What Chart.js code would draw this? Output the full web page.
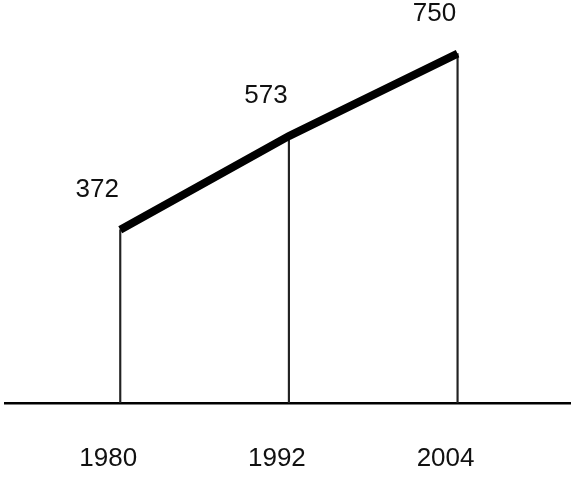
<!DOCTYPE html>
<html>
<head>
<meta charset="utf-8">
<script src="https://cdn.jsdelivr.net/npm/chart.js@4.4.1/dist/chart.umd.min.js"></script>
<style>
  html, body { margin: 0; padding: 0; background: #fff; }
  #wrap { width: 578px; height: 478px; position: relative; }
</style>
</head>
<body>
<div id="wrap"><canvas id="myChart"></canvas></div>
<script>
const years = [1980, 1992, 2004]
const values = [372, 573, 750]
const labelText = ['372', '573', '750']

const points = years.map((yr, i) => ({ x: yr, y: values[i] }))

// value labels above each point of the line
const pointLabels = {
    id: 'pointLabels',
    afterDatasetsDraw(chart) {
        const ctx = chart.ctx
        const meta = chart.getDatasetMeta(0)
        ctx.save()
        ctx.font = '26px "Liberation Sans", Arial, sans-serif'
        ctx.fillStyle = '#111'
        ctx.textAlign = 'center'
        ctx.textBaseline = 'middle'
        meta.data.forEach((pt, i) => {
            ctx.fillText(labelText[i], pt.x - 23, pt.y - 40)
        })
        ctx.restore()
    }
}

const data = {
    datasets: [{
        type: 'line',
        data: points,
        borderColor: '#000',
        borderWidth: 8,
        tension: 0,
        fill: false,
        pointRadius: 0,
        pointHoverRadius: 0,
    },
    {
        // thin drop lines down to the baseline
        type: 'bar',
        data: points,
        backgroundColor: '#222',
        borderWidth: 0,
        barThickness: 1.5,
    }]
}

const config = {
    type: 'line',
    data,
    plugins: [pointLabels],
    options: {
        responsive: true,
        maintainAspectRatio: false,
        animation: false,
        layout: {
            padding: { top: 0, left: 5, right: 8, bottom: 4 }
        },
        plugins: {
            legend: { display: false },
            tooltip: { enabled: false },
        },
        scales: {
            x: {
                type: 'linear',
                offset: false,
                min: 1971.8,
                max: 2012,
                afterBuildTicks: (axis) => {
                    axis.ticks = years.map(v => ({ value: v }))
                },
                afterFit: (axis) => {
                    axis.height = 71
                },
                grid: { display: false, drawTicks: false, offset: false },
                border: { display: true, color: '#000', width: 2.5 },
                ticks: {
                    padding: 40,
                    labelOffset: -12,
                    color: '#111',
                    font: { family: '"Liberation Sans", Arial, sans-serif', size: 26 },
                    callback: (v) => String(v),
                }
            },
            y: {
                display: false,
                min: 0,
                max: 865,
            }
        }
    }
}

const myChart = new Chart(
    document.getElementById('myChart'),
    config
)
</script>
</body>
</html>
